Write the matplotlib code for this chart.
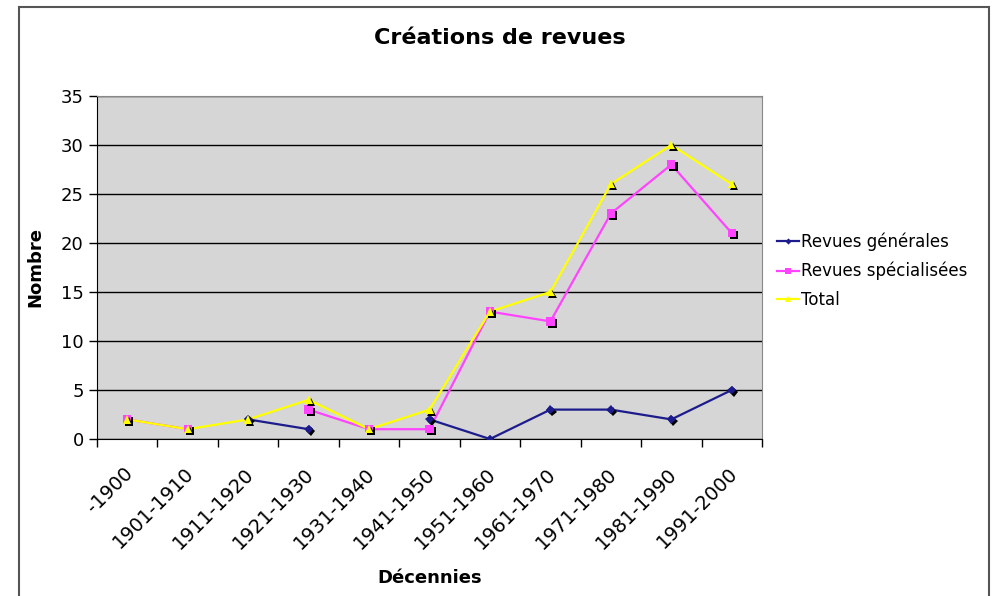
import numpy as np
import matplotlib.pyplot as plt
import matplotlib.patheffects as pe
import matplotlib.transforms as mtransforms
from matplotlib.patches import Rectangle

# Données
decennies = ['-1900', '1901-1910', '1911-1920', '1921-1930', '1931-1940', '1941-1950',
             '1951-1960', '1961-1970', '1971-1980', '1981-1990', '1991-2000']
generales = [np.nan, np.nan, 2, 1, np.nan, 2, 0, 3, 3, 2, 5]
specialisees = [2, 1, np.nan, 3, 1, 1, 13, 12, 23, 28, 21]
total = [2, 1, 2, 4, 1, 3, 13, 15, 26, 30, 26]

fig = plt.figure(figsize=(9.94, 5.96), dpi=100)
ax = fig.add_axes([0.0976, 0.2634, 0.669, 0.5756])
ax.set_facecolor('#d6d6d6')

x = np.arange(len(decennies))
ombre = [pe.SimplePatchShadow(offset=(1.5, -1.5), shadow_rgbFace='black', alpha=1.0), pe.Normal()]

series = [
    (generales, '#1c1c8c', 'D', 4.5, 'Revues générales'),
    (specialisees, '#ff44ff', 's', 6, 'Revues spécialisées'),
    (total, '#ffff00', '^', 6, 'Total'),
]
for vals, couleur, marq, taille, nom in series:
    ax.plot(x, vals, color=couleur, lw=1.6, label=nom, marker=marq, markersize=taille,
            markeredgewidth=0, zorder=3)
    ax.plot(x, vals, ls='none', marker=marq, markersize=taille, color=couleur,
            markeredgewidth=0, path_effects=ombre, zorder=4)

ax.set_xlim(-0.5, len(decennies) - 0.5)
ax.set_ylim(0, 35)
ax.set_yticks(range(0, 36, 5))
ax.yaxis.grid(True, color='black', lw=1)
ax.set_axisbelow(True)

ax.set_xticks(x)
ax.set_xticklabels(decennies, rotation=45, ha='right', rotation_mode='anchor')
ax.set_xticks(np.arange(-0.5, len(decennies)), minor=True)
ax.tick_params(axis='x', which='major', length=0, labelsize=14, pad=18)
ax.tick_params(axis='x', which='minor', length=6, direction='out', width=1)
ax.tick_params(axis='y', labelsize=13, length=6, width=1)
decalage = mtransforms.ScaledTranslation(-4 / 100, 0, fig.dpi_scale_trans)
for lab in ax.get_xticklabels():
    lab.set_transform(lab.get_transform() + decalage)

for s in ['top', 'right']:
    ax.spines[s].set_color('#888888')
ax.spines['left'].set_color('black')
ax.spines['bottom'].set_color('black')

fig.text(0.503, 0.937, 'Créations de revues', fontsize=16, fontweight='bold',
         ha='center', va='center')
ax.set_xlabel('Décennies', fontsize=13, fontweight='bold', labelpad=12)
ax.set_ylabel('Nombre', fontsize=13, fontweight='bold', labelpad=12)

ax.legend(loc='center left', bbox_to_anchor=(1.0, 0.49), frameon=False, fontsize=12,
          handlelength=1.3, handletextpad=0.15, markerscale=0.7, labelspacing=0.65)

# cadre du graphique
fig.patches.append(Rectangle((19 / 994, -0.05), 970 / 994, 1.05 - 7 / 596,
                             transform=fig.transFigure, fill=False,
                             edgecolor='#555555', lw=1.5))

plt.savefig('out.png')
